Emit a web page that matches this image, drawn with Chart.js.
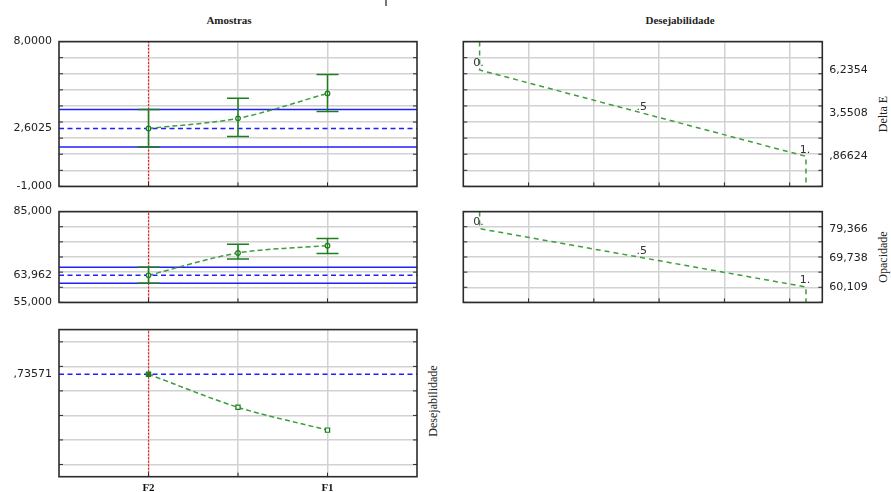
<!DOCTYPE html>
<html><head><meta charset="utf-8">
<script src="https://cdn.jsdelivr.net/npm/chart.js@4.4.1/dist/chart.umd.min.js"></script>
<style>
html,body{margin:0;padding:0;background:#fff;}
#wrap{position:relative;width:891px;height:492px;overflow:hidden;background:#fff;}
canvas{position:absolute;}
.t{position:absolute;font-family:"Liberation Serif",serif;font-weight:bold;font-size:11px;line-height:12px;color:#222;white-space:nowrap;transform:translateX(-50%);}
.v{position:absolute;font-family:"Liberation Serif",serif;font-size:12px;line-height:12px;color:#222;white-space:nowrap;transform:translate(-50%,-50%) rotate(-90deg);}
</style></head>
<body><div id="wrap">
<div style="position:absolute;left:385px;top:0;width:2px;height:6px;background:#777"></div>
<div class="t" style="left:229px;top:14px">Amostras</div>
<div class="t" style="left:680px;top:14px">Desejabilidade</div>
<div class="v" style="left:883px;top:114px">Delta E</div>
<div class="v" style="left:883px;top:257px">Opacidade</div>
<div class="v" style="left:433px;top:401px">Desejabilidade</div>
<canvas id="c1" width="450" height="172" style="left:0;top:28px;width:450px;height:172px"></canvas>
<canvas id="c2" width="441" height="172" style="left:450px;top:28px;width:441px;height:172px"></canvas>
<canvas id="c3" width="450" height="118" style="left:0;top:198px;width:450px;height:118px"></canvas>
<canvas id="c4" width="441" height="118" style="left:450px;top:198px;width:441px;height:118px"></canvas>
<canvas id="c5" width="450" height="176" style="left:0;top:316px;width:450px;height:176px"></canvas>
</div>
<script>
// ---- data ----
const categories = ['F2', '', 'F1'];
const levelPos = [1, 2, 3];
const deltaE = [2.6025, 3.23, 4.78];
const deltaELow = [1.45, 2.10, 3.65];
const deltaEHigh = [3.78, 4.48, 5.96];
const opacidade = [63.962, 71.35, 73.75];
const opacLow = [61.35, 69.30, 71.15];
const opacHigh = [66.60, 74.20, 76.15];
const desejabilidade = [0.73571, 0.466, 0.28];

const desirLevels = [0, 0.5, 1];
const desirLevelLabels = ['0.', '.5', '1.'];
const deltaEDesirY = [6.2354, 3.5508, 0.86624];
const opacDesirY = [79.366, 69.738, 60.109];

// ---- ticks ----
const deltaGrid = [-1, 0, 1, 2, 3, 4, 5, 6, 7, 8];
const deltaTickVals = [8, 2.6025, -1];
const deltaTickLabels = ['8,0000', '2,6025', '-1,000'];
const deltaDesirTickLabels = ['6,2354', '3,5508', ',86624'];
const opacGrid = [55, 60, 65, 70, 75, 80, 85];
const opacTickVals = [85, 63.962, 55];
const opacTickLabels = ['85,000', '63,962', '55,000'];
const opacDesirTickLabels = ['79,366', '69,738', '60,109'];
const desGrid = [0, 0.2, 0.4, 0.6, 0.8, 1.0];
const desTickVals = [0.73571];
const desTickLabels = [',73571'];
const levelGrid = [1, 2, 3];
const desirGrid = [0.15, 0.35, 0.55, 0.75, 0.95];

// ---- styles ----
const GRID = '#d2d2d2';
const GREEN_LINE = '#3c9e3c';
const GREEN_DARK = '#1c7f1c';
const BLUE = '#1f1fff';
const RED = '#ff1a1a';
const TICKFONT = {family: 'DejaVu Sans', size: 11};

function yScale(min, max, grid, vals, labels, position, width, pad) {
  const all = grid.concat(vals.filter(v => !grid.includes(v)));
  return {
    type: 'linear', position, min, max,
    afterBuildTicks: s => { s.ticks = all.map(v => ({value: v})); },
    afterFit: s => { s.width = width; },
    grid: {color: c => (c.tick && grid.includes(c.tick.value)) ? GRID : 'rgba(0,0,0,0)', lineWidth: 1.5, drawTicks: false},
    border: {display: false},
    ticks: {autoSkip: false, padding: pad, color: '#222', font: TICKFONT,
      callback: v => { const i = vals.indexOf(v); return i >= 0 ? labels[i] : ''; }}
  };
}
function xScale(min, max, grid, height, showLabels) {
  return {
    type: 'linear', min, max,
    afterBuildTicks: s => { s.ticks = grid.map(v => ({value: v})); },
    afterFit: s => { s.height = height; },
    grid: {color: GRID, lineWidth: 1.5, drawTicks: false},
    border: {display: false},
    ticks: {display: showLabels, autoSkip: false, maxRotation: 0, padding: 5, color: '#111',
      font: {family: 'Liberation Serif', size: 11, weight: 'bold'},
      callback: v => { const i = levelPos.indexOf(v); return i >= 0 ? categories[i] : ''; }}
  };
}

const framePlugin = {
  id: 'frame',
  afterDraw(chart, args, o) {
    const a = chart.chartArea, ctx = chart.ctx, xs = chart.scales.x, ys = chart.scales.y;
    ctx.save();
    ctx.strokeStyle = '#2b2b2b'; ctx.lineWidth = 1;
    ctx.beginPath();
    (o.yGrid || []).forEach(v => { const p = ys.getPixelForValue(v);
      ctx.moveTo(a.left, p); ctx.lineTo(a.left + 4, p); ctx.moveTo(a.right - 4, p); ctx.lineTo(a.right, p); });
    (o.xGrid || []).forEach(v => { const p = xs.getPixelForValue(v);
      ctx.moveTo(p, a.bottom); ctx.lineTo(p, a.bottom - 4); });
    ctx.stroke();
    ctx.lineWidth = 1.6;
    ctx.strokeRect(a.left, a.top, a.right - a.left, a.bottom - a.top);
    ctx.restore();
  }
};
const errorBarPlugin = {
  id: 'errorBars',
  afterDatasetsDraw(chart, args, o) {
    if (!o.low) return;
    const ctx = chart.ctx, xs = chart.scales.x, ys = chart.scales.y;
    ctx.save();
    ctx.strokeStyle = GREEN_DARK; ctx.lineWidth = 1.5;
    ctx.beginPath();
    o.x.forEach((xv, i) => {
      const px = xs.getPixelForValue(xv), lo = ys.getPixelForValue(o.low[i]), hi = ys.getPixelForValue(o.high[i]);
      ctx.moveTo(px, lo); ctx.lineTo(px, hi);
      ctx.moveTo(px - 11, lo); ctx.lineTo(px + 11, lo);
      ctx.moveTo(px - 11, hi); ctx.lineTo(px + 11, hi);
    });
    ctx.stroke();
    ctx.restore();
  }
};
const levelLabelPlugin = {
  id: 'levelLabels',
  afterDatasetsDraw(chart, args, o) {
    if (!o.texts) return;
    const ctx = chart.ctx, xs = chart.scales.x, ys = chart.scales.y;
    ctx.save();
    ctx.font = '11px "DejaVu Sans"'; ctx.fillStyle = '#333';
    ctx.textAlign = 'center'; ctx.textBaseline = 'bottom';
    o.x.forEach((xv, i) => {
      ctx.fillText(o.texts[i], xs.getPixelForValue(xv) - 1, ys.getPixelForValue(o.y[i]) - 1);
    });
    ctx.restore();
  }
};

function hline(y, dashed) {
  return {data: [{x: 0, y}, {x: 4, y}], borderColor: BLUE, borderWidth: 1.5,
    borderDash: dashed ? [5, 3.5] : [], pointRadius: 0, tension: 0, order: 3};
}
function redLine(min, max) {
  return {data: [{x: 1, y: min}, {x: 1, y: max}], borderColor: RED, borderWidth: 1.2,
    borderDash: [2, 1.5], pointRadius: 0, tension: 0, order: 2};
}
function seriesDs(vals, style) {
  const rect = style === 'rect';
  return {data: levelPos.map((x, i) => ({x, y: vals[i]})), borderColor: GREEN_LINE, borderWidth: 1.5,
    borderDash: [5, 3], tension: 0.3, order: 0,
    pointStyle: rect ? 'rect' : 'circle', pointRadius: rect ? 3 : 2.3, pointBorderWidth: 1.2,
    pointBorderColor: GREEN_DARK,
    pointBackgroundColor: rect ? [GREEN_DARK, '#e6f3e6', '#e6f3e6'] : '#ffffff'};
}
function desirCurve(ys, top, bottom) {
  const pts = [{x: desirLevels[0], y: top}].concat(desirLevels.map((x, i) => ({x, y: ys[i]})))
    .concat([{x: desirLevels[desirLevels.length - 1], y: bottom}]);
  return {data: pts, borderColor: GREEN_LINE, borderWidth: 1.5, borderDash: [5, 4], pointRadius: 0, tension: 0};
}
function baseOpts(padding, scales, plugins) {
  return {
    responsive: false, animation: false, devicePixelRatio: 1,
    layout: {padding},
    scales,
    plugins: Object.assign({legend: {display: false}, tooltip: {enabled: false}}, plugins)
  };
}
const plugins = [errorBarPlugin, levelLabelPlugin, framePlugin];

// Panel 1: Delta E vs Amostras
new Chart(document.getElementById('c1'), {
  type: 'line',
  data: {datasets: [hline(deltaELow[0]), hline(deltaEHigh[0]), hline(deltaE[0], true), redLine(-1, 8), seriesDs(deltaE)]},
  options: baseOpts({top: 12.7, bottom: 11, left: 0, right: 33},
    {x: xScale(0, 4, levelGrid, 0, false), y: yScale(-1, 8, deltaGrid, deltaTickVals, deltaTickLabels, 'left', 59, 7)},
    {frame: {yGrid: deltaGrid, xGrid: levelGrid}, errorBars: {x: levelPos, low: deltaELow, high: deltaEHigh}}),
  plugins
});
// Panel 2: Delta E desirability
new Chart(document.getElementById('c2'), {
  type: 'line',
  data: {datasets: [desirCurve(deltaEDesirY, 8, -1)]},
  options: baseOpts({top: 12.7, bottom: 11, left: 13.3, right: 0},
    {x: xScale(-0.05, 1.05, desirGrid, 0, false), y: yScale(-1, 8, deltaGrid, deltaEDesirY, deltaDesirTickLabels, 'right', 68.7, 7)},
    {frame: {yGrid: deltaGrid, xGrid: desirGrid}, levelLabels: {x: desirLevels, y: deltaEDesirY, texts: desirLevelLabels}}),
  plugins
});
// Panel 3: Opacidade vs Amostras
new Chart(document.getElementById('c3'), {
  type: 'line',
  data: {datasets: [hline(opacLow[0]), hline(opacHigh[0]), hline(opacidade[0], true), redLine(55, 85), seriesDs(opacidade)]},
  options: baseOpts({top: 12, bottom: 10, left: 0, right: 33},
    {x: xScale(0, 4, levelGrid, 0, false), y: yScale(55, 85, opacGrid, opacTickVals, opacTickLabels, 'left', 59, 7)},
    {frame: {yGrid: opacGrid, xGrid: levelGrid}, errorBars: {x: levelPos, low: opacLow, high: opacHigh}}),
  plugins
});
// Panel 4: Opacidade desirability
new Chart(document.getElementById('c4'), {
  type: 'line',
  data: {datasets: [desirCurve(opacDesirY, 85, 55)]},
  options: baseOpts({top: 12, bottom: 10, left: 13.3, right: 0},
    {x: xScale(-0.05, 1.05, desirGrid, 0, false), y: yScale(55, 85, opacGrid, opacDesirY, opacDesirTickLabels, 'right', 68.7, 7)},
    {frame: {yGrid: opacGrid, xGrid: desirGrid}, levelLabels: {x: desirLevels, y: opacDesirY, texts: desirLevelLabels}}),
  plugins
});
// Panel 5: overall desirability
new Chart(document.getElementById('c5'), {
  type: 'line',
  data: {datasets: [hline(desejabilidade[0], true), redLine(-0.1, 1.1), seriesDs(desejabilidade, 'rect')]},
  options: baseOpts({top: 10, bottom: 0, left: 0, right: 33},
    {x: xScale(0, 4, levelGrid, 15.3, true), y: yScale(-0.1, 1.1, desGrid, desTickVals, desTickLabels, 'left', 59, 7)},
    {frame: {yGrid: desGrid, xGrid: levelGrid}}),
  plugins
});
</script>
</body></html>
